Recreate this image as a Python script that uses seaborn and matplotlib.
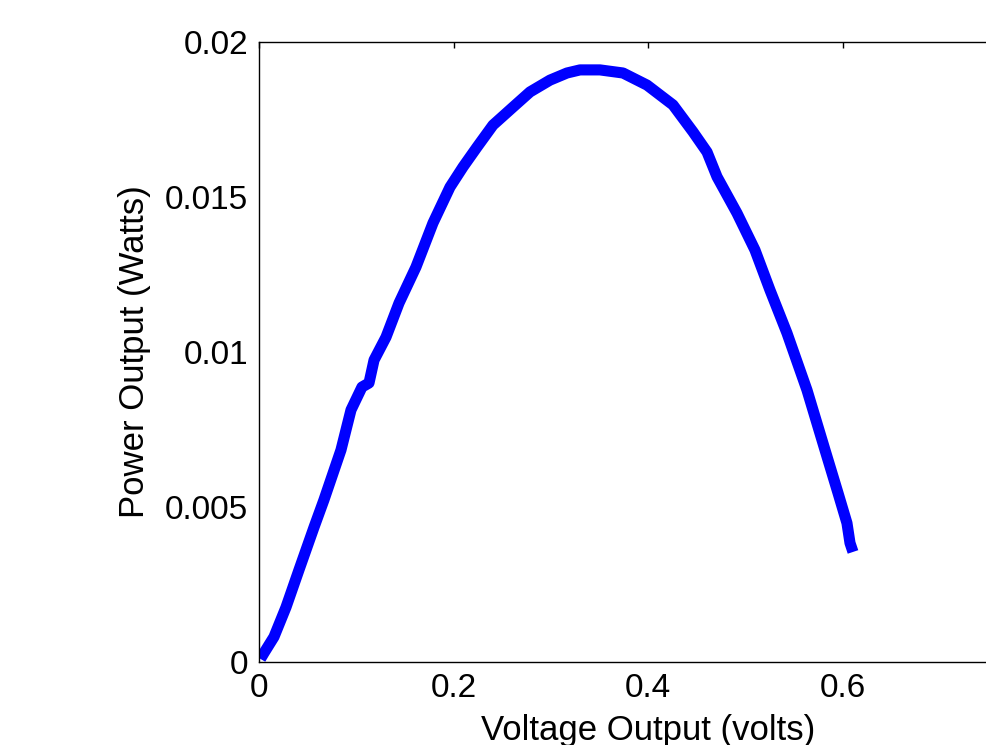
import matplotlib
matplotlib.use("Agg")
import matplotlib.pyplot as plt
import seaborn as sns
import pandas as pd

voltage = [0.0015, 0.0051, 0.0154, 0.0278, 0.0411, 0.0566, 0.0668, 0.0843, 0.0946, 0.1059,
           0.1131, 0.1183, 0.1306, 0.1440, 0.1614, 0.1789, 0.1964, 0.2098, 0.2242, 0.2406,
           0.2612, 0.2787, 0.2992, 0.3167, 0.3301, 0.3506, 0.3743, 0.3990, 0.4257, 0.4463,
           0.4607, 0.4710, 0.4915, 0.5100, 0.5254, 0.5429, 0.5635, 0.5820, 0.5954, 0.6046,
           0.6077, 0.6108]
power = [0.00010, 0.00029, 0.00081, 0.00177, 0.00297, 0.00435, 0.00523, 0.00684, 0.00813, 0.00887,
         0.00900, 0.00974, 0.01048, 0.01158, 0.01274, 0.01416, 0.01532, 0.01597, 0.01661, 0.01732,
         0.01790, 0.01839, 0.01877, 0.01900, 0.01910, 0.01910, 0.01900, 0.01861, 0.01797, 0.01710,
         0.01645, 0.01565, 0.01448, 0.01329, 0.01200, 0.01061, 0.00877, 0.00684, 0.00545, 0.00448,
         0.00384, 0.00355]
x_ticks = [0, 0.2, 0.4, 0.6]
x_tick_labels = ["0", "0.2", "0.4", "0.6"]
y_ticks = [0, 0.005, 0.01, 0.015, 0.02]
y_tick_labels = ["0", "0.005", "0.01", "0.015", "0.02"]

sns.set_style("white")
plt.rcParams['font.family'] = ['Liberation Sans', 'DejaVu Sans']

fig = plt.figure(figsize=(9.86, 7.45), dpi=100)
ax = fig.add_axes([259/986, 1-662/745, 0.8*972.5/986, 620/745])

df = pd.DataFrame({"v": voltage, "p": power})
sns.lineplot(data=df, x="v", y="p", ax=ax, sort=False, estimator=None,
             color="#0000ff", linewidth=8, solid_capstyle="butt", solid_joinstyle="round")

ax.set_xlim(0, 0.8)
ax.set_ylim(0, 0.02)
ax.set_xticks(x_ticks)
ax.set_xticklabels(x_tick_labels)
ax.set_yticks(y_ticks)
ax.set_yticklabels(y_tick_labels)
ax.tick_params(direction="in", length=4, width=1, top=True, right=True,
               labelsize=24, colors="black")
ax.tick_params(axis="x", pad=8)
ax.tick_params(axis="y", pad=8)
for s in ax.spines.values():
    s.set_visible(True)
    s.set_color("black")
    s.set_linewidth(1)
ax.set_xlabel("Voltage Output (volts)", fontsize=25, labelpad=7, color="black")
ax.set_ylabel("Power Output (Watts)", fontsize=25, labelpad=10, color="black")

fig.savefig("out.png", dpi=100, facecolor="white")
